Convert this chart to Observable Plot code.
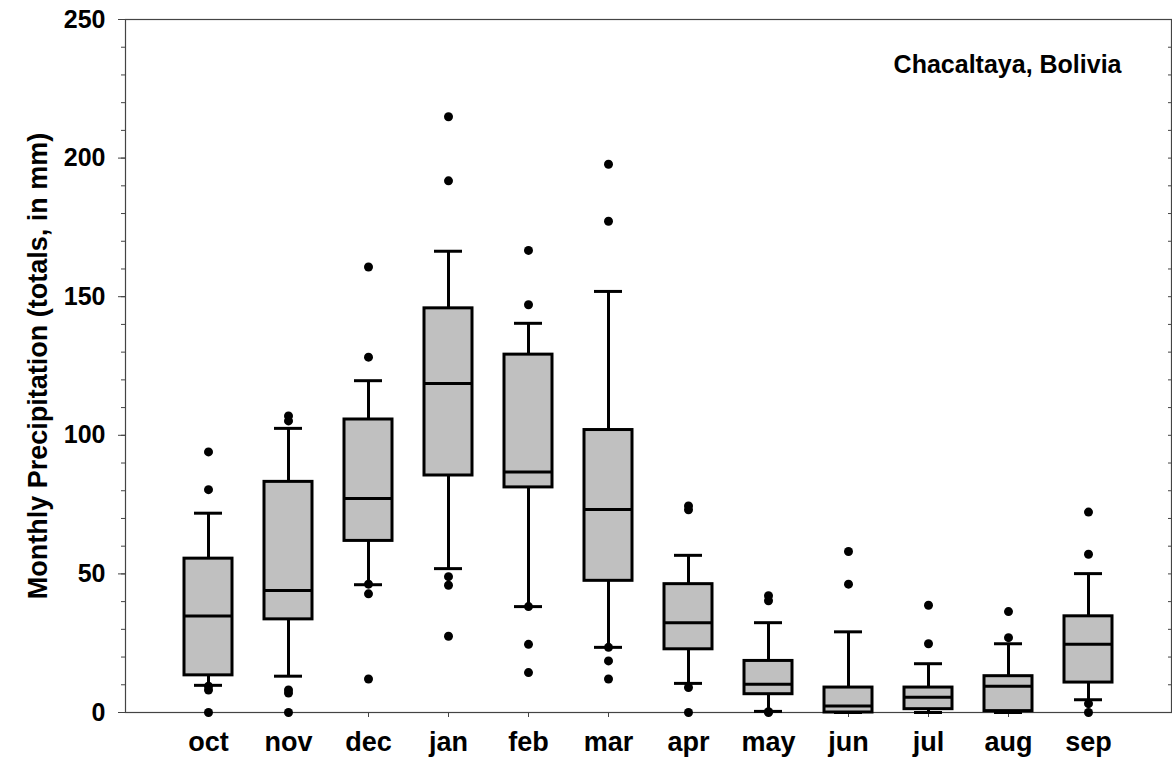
<!DOCTYPE html>
<html>
<head>
<meta charset="utf-8">
<script src="https://cdn.jsdelivr.net/npm/d3@7"></script>
<script src="https://cdn.jsdelivr.net/npm/@observablehq/plot@0.6"></script>
<style>
  html, body { margin: 0; padding: 0; background: #fff; }
</style>
</head>
<body>
<div id="chart"></div>
<script>
const months = ["oct", "nov", "dec", "jan", "feb", "mar", "apr", "may", "jun", "jul", "aug", "sep"];
const whiskerLow  = [9.8, 13.1, 46.1, 51.9, 38.2, 23.5, 10.5, 0.4, 0, 0, 0, 4.6];
const q1          = [13.4, 33.6, 61.9, 85.5, 81.2, 47.5, 22.8, 6.6, 0, 1.2, 0.5, 10.8];
const medians     = [34.8, 44.0, 77.2, 118.7, 86.8, 73.2, 32.4, 10.2, 2.3, 5.5, 9.5, 24.6];
const q3          = [55.5, 83.2, 105.7, 145.8, 129.1, 101.9, 46.3, 18.6, 9.0, 9.0, 13.1, 34.7];
const whiskerHigh = [71.9, 102.5, 119.7, 166.4, 140.4, 151.9, 56.7, 32.4, 29.1, 17.6, 24.8, 50.1];
const outliers = [
  [94.0, 80.4, 9.5, 8.1, 0],
  [107.0, 105.2, 8.1, 7.0, 0],
  [160.7, 128.2, 46.3, 42.8, 12.1],
  [214.9, 191.8, 49.0, 45.9, 27.5],
  [166.7, 147.1, 38.2, 24.6, 14.4],
  [197.8, 177.2, 23.5, 18.6, 12.1],
  [74.5, 73.1, 9.0, 0],
  [42.1, 40.3, 0.3, 0],
  [58.1, 46.3],
  [38.7, 24.8],
  [36.4, 27.0],
  [72.3, 57.1, 3.2, 0]
];
const yMajorTicks = [0, 50, 100, 150, 200, 250];
const yMinorTicks = d3.range(0, 251, 10);
const yTitle = "Monthly Precipitation (totals, in mm)";
const annotation = "Chacaltaya, Bolivia";

const boxes = months.map((m, i) => ({
  month: m, lo: whiskerLow[i], q1: q1[i], med: medians[i], q3: q3[i], hi: whiskerHigh[i]
}));
const points = months.flatMap((m, i) => outliers[i].map(v => ({month: m, value: v})));

const chart = Plot.plot({
  width: 1172,
  height: 774,
  marginLeft: 125,
  marginRight: 1,
  marginTop: 19,
  marginBottom: 62,
  style: {fontFamily: "'Liberation Sans', Arial, sans-serif", fontWeight: "bold", fontSize: "25px", color: "#000", background: "#fff"},
  x: {domain: months, paddingInner: 0.4, paddingOuter: 0.7, label: null},
  y: {domain: [0, 250], label: null},
  marks: [
    Plot.frame({stroke: "#444", strokeWidth: 1.2}),
    Plot.axisY({ticks: yMinorTicks, tickSize: 4, text: null, label: null, stroke: "#444"}),
    Plot.axisY({ticks: yMajorTicks, tickSize: 7, tickPadding: 13, label: null, stroke: "#444", fontSize: 25, fontWeight: "bold"}),
    Plot.axisY({anchor: "right", ticks: yMinorTicks, tickSize: -4, text: null, label: null, stroke: "#444"}),
    Plot.axisX({tickSize: 5, tickPadding: 14, label: null, stroke: "#444", fontSize: 27, fontWeight: "bold"}),
    Plot.ruleY([0], {stroke: "#444", strokeWidth: 1.2, insetLeft: -6}),
    Plot.ruleX(boxes, {x: "month", y1: "lo", y2: "hi", stroke: "#000", strokeWidth: 3}),
    Plot.tickY(boxes, {x: "month", y: "lo", stroke: "#000", strokeWidth: 3, insetLeft: 10, insetRight: 10}),
    Plot.tickY(boxes, {x: "month", y: "hi", stroke: "#000", strokeWidth: 3, insetLeft: 10, insetRight: 10}),
    Plot.barY(boxes, {x: "month", y1: "q1", y2: "q3", fill: "#c0c0c0", stroke: "#000", strokeWidth: 3}),
    Plot.tickY(boxes, {x: "month", y: "med", stroke: "#000", strokeWidth: 3}),
    Plot.dot(points, {x: "month", y: "value", r: 4.5, fill: "#000", stroke: "none"}),
    Plot.text([annotation], {frameAnchor: "top-right", dx: -50, dy: 45, textAnchor: "end", lineAnchor: "middle", fontSize: 25, fontWeight: "bold", fill: "#000"}),
    Plot.text([yTitle], {frameAnchor: "left", dx: -87, rotate: -90, textAnchor: "middle", lineAnchor: "middle", fontSize: 27, fontWeight: "bold", fill: "#000"})
  ]
});
document.getElementById("chart").appendChild(chart);
</script>
</body>
</html>
